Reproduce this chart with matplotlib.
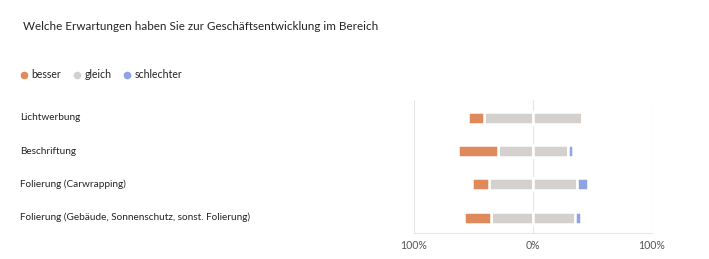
import matplotlib.pyplot as plt
import matplotlib.transforms as mtransforms
from matplotlib.lines import Line2D
import numpy as np

plt.rcParams['font.family'] = ['Lato', 'DejaVu Sans']

categories = ['Lichtwerbung', 'Beschriftung', 'Folierung (Carwrapping)',
              'Folierung (Gebäude, Sonnenschutz, sonst. Folierung)']
besser = [14, 34, 14, 23]
gleich = [82, 58, 74, 70]
schlechter = [0, 5, 9, 5]

c_besser = '#E08A5C'
c_gleich = '#D3D0CD'
c_schlechter = '#8FA3E3'

fig = plt.figure(figsize=(7.09, 2.59), dpi=100)
ax = fig.add_axes([414 / 709, 26 / 259, 238 / 709, 133 / 259])

y = np.arange(len(categories))
g = np.array(gleich, dtype=float)
b = np.array(besser, dtype=float)
s = np.array(schlechter, dtype=float)
h = 0.36
kw = dict(height=h, edgecolor='white', linewidth=1.8, zorder=3)
ax.barh(y, -g / 2, left=0, color=c_gleich, **kw)
ax.barh(y, g / 2, left=0, color=c_gleich, **kw)
ax.barh(y, -b, left=-g / 2, color=c_besser, **kw)
ax.barh(y, s, left=g / 2, color=c_schlechter, **kw)

ax.set_xlim(-100, 100)
ax.set_ylim(len(categories) - 0.54, -0.54)
ax.set_yticks([])
ax.set_xticks([-100, 0, 100])
ax.set_xticklabels(['100%', '0%', '100%'], fontsize=7.6, color='#555555')
ax.tick_params(axis='x', length=0, pad=5)
ax.grid(axis='x', color='#E6E6E6', linewidth=0.8, zorder=0)
for sp in ['top', 'left', 'right']:
    ax.spines[sp].set_visible(False)
ax.spines['bottom'].set_color('#E6E6E6')

trans = mtransforms.blended_transform_factory(fig.transFigure, ax.transData)
for yi, cat in zip(y, categories):
    ax.text(20 / 709, yi, cat, transform=trans, ha='left', va='center',
            fontsize=7.2, color='#252423')

fig.text(23 / 709, 1 - 27 / 259, 'Welche Erwartungen haben Sie zur Geschäftsentwicklung im Bereich',
         ha='left', va='center', fontsize=8.35, color='#252423')

handles = [Line2D([], [], marker='o', linestyle='', markersize=4.5, color=c)
           for c in [c_besser, c_gleich, c_schlechter]]
leg = fig.legend(handles, ['besser', 'gleich', 'schlechter'], loc='center left',
                 bbox_to_anchor=(8 / 709, 1 - 75 / 259), ncol=3, frameon=False,
                 fontsize=7.6, handletextpad=0.1, columnspacing=0.9, handlelength=1.2)
for t in leg.get_texts():
    t.set_color('#252423')

fig.savefig('out.png', dpi=100)
